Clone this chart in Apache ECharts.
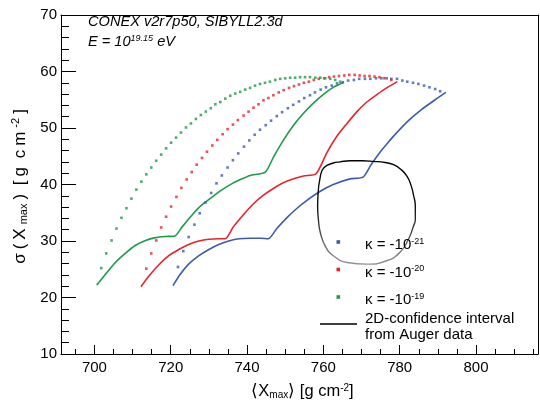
<!DOCTYPE html>
<html><head><meta charset="utf-8">
<script src="https://cdn.jsdelivr.net/npm/echarts@6/dist/echarts.min.js"></script>
<style>html,body{margin:0;padding:0;background:#fff}#c{width:540px;height:405px}</style>
</head><body><div id="c"></div>
<script>
// ---- data ----
const xMajorTicks = [700, 720, 740, 760, 780, 800];
const xMinorTicks = [695,700,705,710,715,720,725,730,735,740,745,750,755,760,765,770,775,780,785,790,795,800,805,810,815];
const seriesNames = ['κ = -10^-21', 'κ = -10^-20', 'κ = -10^-19'];

const blueLower = [[720.6,22.1],[722.5,24.1],[724.7,25.9],[727.4,27.4],[730.0,28.5],[732.6,29.4],[735.2,30.0],[737.9,30.4],[740.8,30.5],[743.4,30.5],[745.6,30.4],[747.8,32.2],[750.4,34.1],[753.1,35.8],[755.7,37.2],[759.2,38.8],[762.6,40.0],[767.0,41.0],[770.4,41.3],[772.5,43.5],[774.6,45.5],[776.8,47.3],[779.0,49.0],[782.3,51.3],[785.8,53.3],[789.3,55.0],[792.1,56.3]];
const blueUpper = [[721.9,25.4],[723.3,28.2],[724.7,30.7],[726.2,32.9],[727.6,34.9],[729.1,36.8],[730.6,38.5],[732.0,40.2],[733.4,41.6],[734.9,43.0],[736.3,44.3],[737.7,45.5],[739.2,46.7],[740.6,47.8],[742.0,48.8],[743.4,49.7],[744.9,50.5],[746.3,51.3],[747.8,52.1],[749.2,52.8],[750.7,53.5],[752.1,54.1],[753.6,54.7],[755.0,55.3],[756.5,55.8],[757.8,56.3],[759.3,56.8],[760.7,57.2],[762.2,57.5],[763.6,57.9],[765.1,58.1],[766.5,58.4],[768.0,58.5],[769.4,58.7],[770.9,58.7],[772.3,58.7],[773.8,58.8],[775.2,58.8],[776.6,58.8],[777.8,58.7],[779.3,58.7],[780.7,58.4],[782.0,58.2],[783.5,58.0],[784.9,57.8],[786.4,57.5],[787.8,57.2],[789.3,56.9],[790.6,56.5]];

const redLower = [[712.2,21.9],[714.3,23.8],[716.9,25.8],[719.5,27.4],[722.1,28.5],[724.7,29.4],[727.4,30.0],[730.0,30.3],[732.6,30.4],[734.3,30.4],[736.4,32.5],[739.1,34.7],[741.7,36.6],[744.3,38.1],[746.9,39.3],[749.5,40.3],[752.2,41.0],[754.8,41.5],[758.1,41.9],[760.9,45.6],[763.5,48.5],[766.2,50.8],[768.8,52.9],[771.4,54.6],[774.0,55.9],[776.6,57.1],[779.4,58.2]];
const redUpper = [[713.6,25.1],[714.9,27.8],[716.2,30.1],[717.5,32.4],[718.8,34.3],[720.1,36.1],[721.5,37.8],[722.8,39.4],[724.2,40.9],[725.5,42.2],[726.8,43.5],[728.2,44.7],[729.5,45.8],[730.9,46.9],[732.2,47.9],[733.6,48.9],[734.9,49.8],[736.3,50.6],[737.6,51.4],[739.1,52.2],[740.4,52.9],[741.7,53.6],[743.0,54.2],[744.3,54.9],[745.6,55.3],[746.9,55.8],[748.3,56.3],[749.6,56.7],[751.0,57.1],[752.3,57.4],[753.6,57.7],[754.9,58.0],[756.2,58.2],[757.5,58.5],[758.8,58.7],[760.2,58.8],[761.5,59.0],[762.8,59.1],[764.1,59.2],[765.5,59.3],[766.8,59.4],[768.2,59.4],[769.5,59.3],[770.8,59.2],[772.1,59.2],[773.4,59.1],[774.7,59.0],[776.0,58.8],[777.8,58.5]];

const greenLower = [[700.6,22.2],[702.9,24.1],[705.5,26.2],[708.1,27.8],[710.7,29.2],[713.4,30.1],[716.0,30.6],[718.6,30.8],[721.1,30.9],[723.0,32.5],[725.6,34.6],[728.0,36.3],[730.9,37.8],[733.3,39.0],[736.2,40.2],[738.7,41.0],[740.8,41.6],[744.8,42.2],[746.9,44.8],[749.5,47.8],[752.2,50.5],[754.8,52.6],[757.4,54.4],[760.1,56.0],[762.6,57.2],[765.3,58.05]];
const greenUpper = [[701.8,25.2],[703.1,27.8],[704.5,30.1],[705.8,32.2],[707.1,34.1],[708.4,35.8],[709.7,37.5],[711.0,39.1],[712.3,40.5],[713.6,41.8],[714.9,43.0],[716.2,44.2],[717.5,45.3],[718.8,46.4],[720.1,47.4],[721.4,48.3],[722.7,49.2],[724.0,50.1],[725.3,50.8],[726.6,51.6],[727.9,52.3],[729.2,52.9],[730.5,53.5],[731.7,54.2],[733.0,54.6],[734.3,55.2],[735.6,55.7],[736.9,56.1],[738.2,56.4],[739.5,56.8],[740.8,57.1],[742.1,57.5],[743.4,57.8],[744.7,58.0],[746.0,58.2],[747.4,58.5],[748.7,58.7],[750.0,58.8],[751.3,58.9],[752.6,58.9],[753.9,59.0],[755.2,59.0],[756.5,59.0],[757.9,58.9],[759.2,58.9],[760.5,58.8],[761.8,58.7],[763.1,58.5],[764.4,58.2]];

const augerContour = [[758.6,38.2],[759.2,41.4],[760.2,43.0],[762.6,43.8],[764.4,44.0],[767.0,44.2],[770.2,44.2],[773.1,44.1],[776.2,43.9],[778.4,43.5],[780.1,42.8],[781.9,41.5],[783.0,39.8],[783.6,38.2],[784.1,36.2],[784.1,33.8],[783.6,32.6],[782.3,30.3],[780.1,28.0],[776.6,26.5],[771.4,25.9],[766.2,26.2],[762.6,27.4],[760.5,29.1],[759.2,31.5],[758.7,33.8],[758.5,36.2],[758.6,38.2]];

// ---- styling ----
const FONT = "'Liberation Sans', Arial, Helvetica, sans-serif";
const BLUE = '#3d5ca9', RED = '#e8232c', GREEN = '#1e9a4a';
function rich(fs, gap) {
  const s = Math.round(fs * 0.62);
  const g = gap || 0;
  return {
    a: {fontSize: fs, fontFamily: FONT, color: '#000', padding: [0, g, 0, 0]},
    sub: {fontSize: s, fontFamily: FONT, color: '#000', verticalAlign: 'bottom', padding: [Math.round(fs * 0.45), g, 0, 0]},
    sup: {fontSize: s, fontFamily: FONT, color: '#000', verticalAlign: 'top', padding: [0, g, Math.round(fs * 0.45), 0]}
  };
}

function lowerSeries(data, color) {
  return {type: 'line', data: data, xAxisIndex: 0, yAxisIndex: 0, showSymbol: false, symbol: 'none',
          smooth: 0.22,
          lineStyle: {color: color, width: 1.6}, silent: true, z: 3};
}
function upperSeries(data, color) {
  return {type: 'scatter', data: data, xAxisIndex: 0, yAxisIndex: 0, symbol: 'rect', symbolSize: 2.6,
          itemStyle: {color: color}, silent: true, z: 3};
}

const chart = echarts.init(document.getElementById('c'), null, {renderer: 'canvas'});
const legendY = [242, 269.5, 297];
const legendColors = [BLUE, RED, GREEN];
const legendExp = ['-21', '-20', '-19'];
const graphics = [];
legendColors.forEach((c, i) => {
  graphics.push({type: 'rect', shape: {x: 336.5, y: legendY[i] - 1.8, width: 3.6, height: 3.6}, style: {fill: c}, z: 10});
  graphics.push({type: 'text', x: 365, y: legendY[i] + 3, z: 10,
    style: {text: '{a|κ = -10}{sup|' + legendExp[i] + '}', rich: rich(15), verticalAlign: 'middle', align: 'left'}});
});
graphics.push({type: 'line', shape: {x1: 320, y1: 324, x2: 357, y2: 324}, style: {stroke: '#000', lineWidth: 1.6}, z: 10});
graphics.push({type: 'text', x: 365, y: 319, z: 10, style: {text: '2D-confidence interval', font: '15px ' + FONT, fill: '#000', verticalAlign: 'middle'}});
graphics.push({type: 'text', x: 365, y: 335, z: 10, style: {text: 'from Auger data', font: '15px ' + FONT, fill: '#000', verticalAlign: 'middle'}});
graphics.push({type: 'text', x: 88, y: 21.5, z: 10, style: {text: 'CONEX v2r7p50, SIBYLL2.3d', font: 'italic 14.6px ' + FONT, fill: '#000', verticalAlign: 'middle'}});
graphics.push({type: 'text', x: 88, y: 42, z: 10, style: {
  text: '{a|E = 10}{sup|19.15}{a| eV}', verticalAlign: 'middle',
  rich: {a: {fontSize: 14.6, fontStyle: 'italic', fontFamily: FONT, color: '#000'},
         sup: {fontSize: 9, fontStyle: 'italic', fontFamily: FONT, color: '#000', verticalAlign: 'top', padding: [0, 0, 7, 0]}}}});

const blackLine = {show: true, onZero: false, lineStyle: {color: '#000', width: 1}};
const option = {
  animation: false,
  backgroundColor: '#fff',
  grid: {left: 61, right: 2, top: 15, bottom: 49, containLabel: false},
  xAxis: [{
    type: 'value', min: 691.25, max: 816.25, position: 'bottom',
    axisLine: blackLine,
    axisTick: {show: true, inside: true, length: 9, customValues: xMajorTicks, lineStyle: {color: '#000', width: 1}},
    axisLabel: {show: true, customValues: xMajorTicks, margin: 6, fontSize: 15, fontFamily: FONT, color: '#000'},
    splitLine: {show: false},
    name: '{a|⟨X}{sub|max}{a|⟩ [g cm}{sup|-2}{a|]}', nameLocation: 'middle', nameGap: 29,
    nameTextStyle: {rich: rich(16.5), padding: [0, 0, 0, 6]}, z: 5
  }, {
    type: 'value', min: 691.25, max: 816.25, position: 'bottom',
    axisLine: {show: false, onZero: false},
    axisTick: {show: true, inside: true, length: 5, customValues: xMinorTicks, lineStyle: {color: '#000', width: 1}},
    axisLabel: {show: false}, splitLine: {show: false}, z: 5
  }, {
    type: 'value', min: 691.25, max: 816.25, position: 'top',
    axisLine: blackLine, axisTick: {show: false}, axisLabel: {show: false}, splitLine: {show: false}
  }],
  yAxis: [{
    type: 'value', min: 10, max: 70, interval: 10, position: 'left',
    axisLine: blackLine,
    axisTick: {show: true, inside: true, length: 15, lineStyle: {color: '#000', width: 1}},
    minorTick: {show: true, splitNumber: 5, length: 8, lineStyle: {color: '#000', width: 1}},
    axisLabel: {margin: 4, fontSize: 15, fontFamily: FONT, color: '#000'},
    splitLine: {show: false}, minorSplitLine: {show: false},
    name: '{a|σ}{a|(}{a|X}{sub|max}{a|)}{a| [}{a|g}{a| c}{a|m}{sup|-2}{a|]}', nameLocation: 'middle', nameGap: 30, nameRotate: 90,
    nameTextStyle: {rich: rich(17, 4)}, z: 5
  }, {
    type: 'value', min: 10, max: 70, position: 'right',
    axisLine: blackLine, axisTick: {show: false}, axisLabel: {show: false}, splitLine: {show: false}
  }],
  graphic: graphics,
  series: [
    lowerSeries(blueLower, BLUE), upperSeries(blueUpper, BLUE),
    lowerSeries(redLower, RED), upperSeries(redUpper, RED),
    lowerSeries(greenLower, GREEN), upperSeries(greenUpper, GREEN),
    {type: 'line', data: augerContour, xAxisIndex: 0, yAxisIndex: 0, showSymbol: false, symbol: 'none', smooth: 0.5, silent: true, z: 4,
     lineStyle: {width: 1.4, color: {type: 'linear', x: 0, y: 0, x2: 0, y2: 1,
       colorStops: [{offset: 0, color: '#000'}, {offset: 0.45, color: '#111'}, {offset: 1, color: '#9a9a9a'}]}}}
  ]
};
chart.setOption(option);
</script></body></html>
